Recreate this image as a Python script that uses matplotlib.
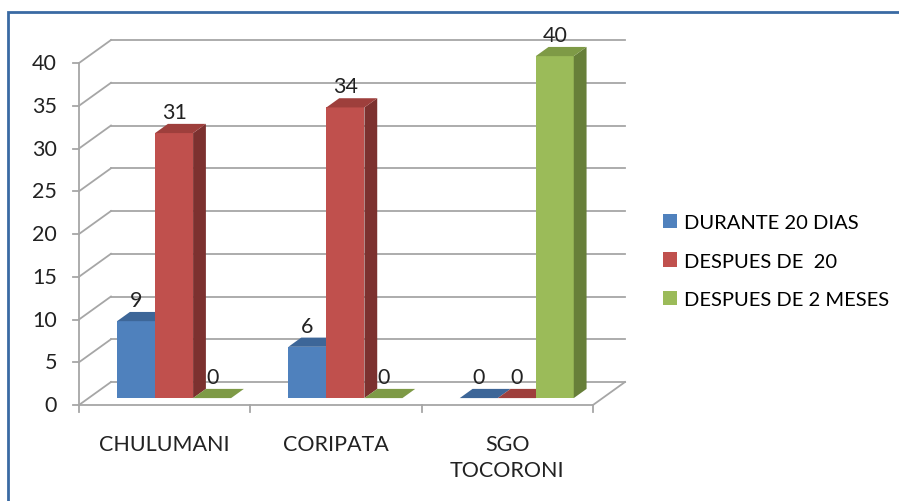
import matplotlib
matplotlib.use('Agg')
import matplotlib.pyplot as plt
from matplotlib.patches import Patch, Rectangle

categorias = ['CHULUMANI', 'CORIPATA', 'SGO\nTOCORONI']
series = ['DURANTE 20 DIAS', 'DESPUES DE  20', 'DESPUES DE 2 MESES']
durante_20 = [9, 6, 0]
despues_20 = [31, 34, 0]
despues_2m = [0, 0, 40]
valores = [durante_20, despues_20, despues_2m]
yticks = [0, 5, 10, 15, 20, 25, 30, 35, 40]

# colores: frente, tapa, lado
colores = [
    ('#4F81BD', '#3D6698', '#2F4E76'),
    ('#C0504D', '#9E3F3C', '#7C312F'),
    ('#9BBB59', '#7E9A46', '#677F39'),
]
gris = '#A6A6A6'
fs = 15.5

plt.rcParams['font.family'] = ['Lato', 'DejaVu Sans']

fig = plt.figure(figsize=(8.99, 5.02), dpi=100)
ax = fig.add_axes([0, 0, 1, 1])
# ejes en unidades de datos: 171.33 px por categoria, 8.55 px por unidad
ax.set_xlim(-0.461, 4.786)
ax.set_ylim(-11.23, 47.49)
ax.axis('off')

DX = 32 / 171.33   # profundidad del piso en x
DY = 23 / 8.55     # profundidad del piso en y
ancho = 38 / 171.33
hueco = 28.5 / 171.33
n = len(categorias)

# pared del fondo
for v in yticks:
    ax.plot([DX, n + DX], [v + DY, v + DY], color=gris, lw=1.3, zorder=1)
    ax.plot([0, DX], [v, v + DY], color=gris, lw=1.3, zorder=1)
    ax.plot([-0.035, 0], [v, v], color=gris, lw=1.3, zorder=1)
    ax.text(-0.128, v, str(v), ha='right', va='center', fontsize=fs, color='#222222')

# piso y ejes
ax.plot([0, 0], [0, 40], color=gris, lw=1.3, zorder=1)
ax.plot([0, n], [0, 0], color=gris, lw=1.3, zorder=1)
ax.plot([n, n + DX], [0, DY], color=gris, lw=1.3, zorder=1)
for i in range(n + 1):
    ax.plot([i, i], [0, -0.85], color=gris, lw=1.3, zorder=1)

for i, cat in enumerate(categorias):
    ax.text(i + 0.5, -3.4, cat, ha='center', va='top', fontsize=fs,
            color='#222222', linespacing=1.35)

# barras 3D
f0, f1 = 0.3, 0.7
for i in range(n):
    for j, vals in enumerate(valores):
        v = vals[i]
        frente, tapa, lado = colores[j]
        x0 = i + hueco + j * ancho + f0 * DX
        x1 = x0 + ancho
        y0 = f0 * DY
        dx = (f1 - f0) * DX
        dy = (f1 - f0) * DY
        y1 = y0 + v
        if v > 0:
            ax.fill([x0, x1, x1, x0], [y0, y0, y1, y1], color=frente, lw=0, zorder=3)
            ax.fill([x1, x1 + dx, x1 + dx, x1], [y0, y0 + dy, y1 + dy, y1],
                    color=lado, lw=0, zorder=3)
        ax.fill([x0, x1, x1 + dx, x0 + dx], [y1, y1, y1 + dy, y1 + dy],
                color=tapa, lw=0, zorder=3)
        ax.text((x0 + x1) / 2, y1 + 2.45, str(v), ha='center', va='center',
                fontsize=fs, color='#222222', zorder=4)

handles = [Patch(facecolor=c[0], edgecolor='none') for c in colores]
fig.legend(handles, series, loc='center left', bbox_to_anchor=(0.728, 0.478),
           frameon=False, fontsize=14.5, handlelength=0.7, handleheight=0.7,
           handletextpad=0.35, labelspacing=1.08, borderaxespad=0)

# marco exterior
fig.patches.append(Rectangle((8 / 899, -0.05), 1.0, 1 - 13 / 502 + 0.05,
                             transform=fig.transFigure, fill=False,
                             edgecolor='#3A6AA3', lw=2, zorder=10))

fig.savefig('out.png', dpi=100)
